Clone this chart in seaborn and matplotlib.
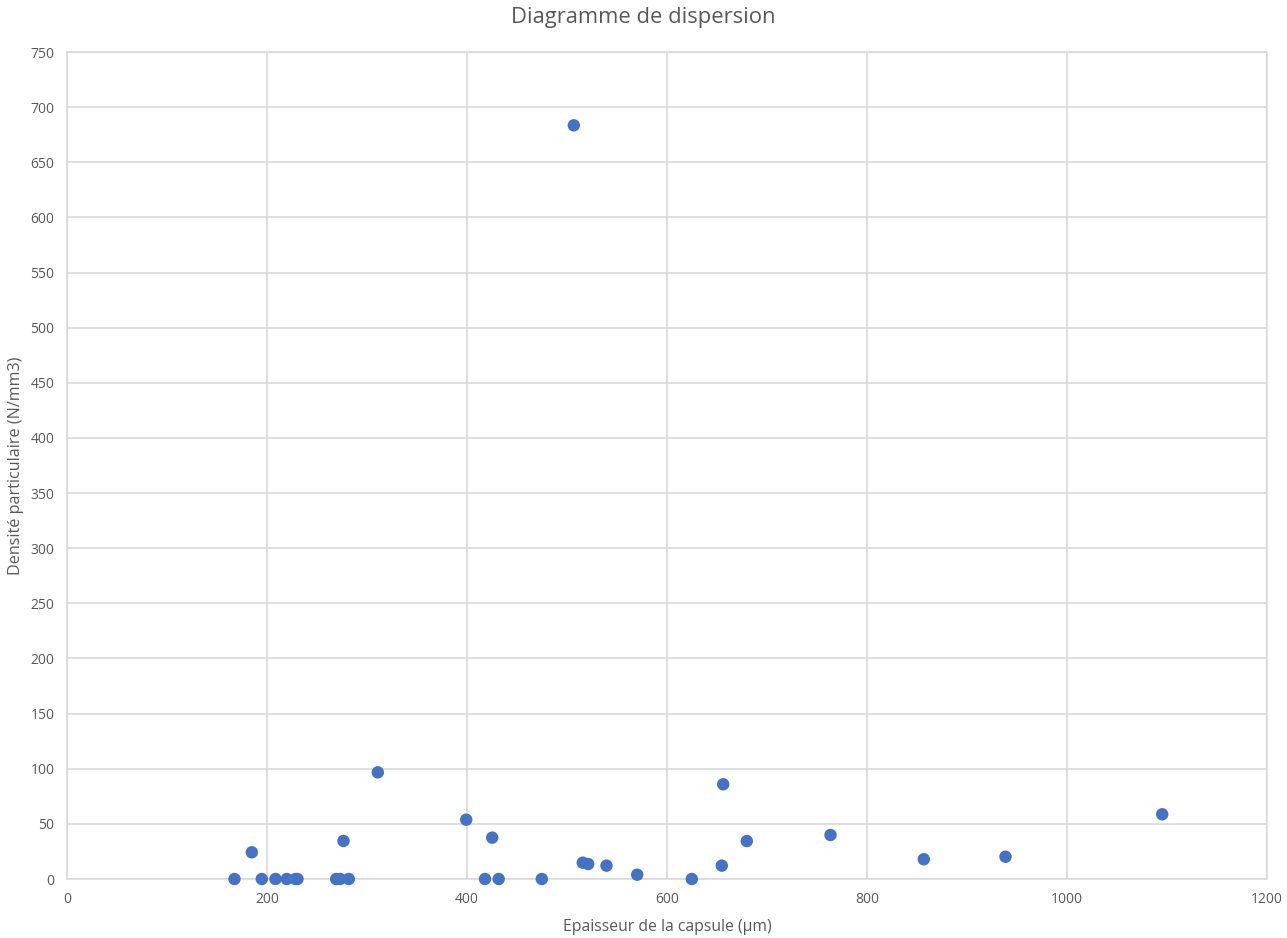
import matplotlib
matplotlib.use("Agg")
import matplotlib.pyplot as plt
import seaborn as sns
import pandas as pd

# Capsule thickness (µm) and particle density (N/mm3)
epaisseur = [167.5, 184.8, 194.8, 208.5, 219.8, 228.5, 230.5, 269.2, 273.2, 276.5,
             281.8, 310.8, 399.2, 418.0, 425.2, 431.7, 474.8, 506.8, 515.8, 521.2,
             539.5, 570.2, 624.8, 654.8, 656.2, 679.8, 763.5, 856.8, 938.5, 1095.2]
densite = [0, 24.2, 0, 0, 0, 0, 0, 0, 0, 34.5,
           0, 96.7, 53.8, 0, 37.5, 0, 0, 683.5, 14.8, 13.6,
           12.1, 3.9, 0, 12.1, 85.9, 34.4, 39.9, 17.9, 20.2, 58.7]

x_ticks = list(range(0, 1201, 200))
y_ticks = list(range(0, 751, 50))

df = pd.DataFrame({"epaisseur": epaisseur, "densite": densite})

sns.set_theme(style="white")
plt.rcParams["font.family"] = ["Open Sans", "DejaVu Sans"]

grid_color = "#d9d9d9"
text_color = "#595959"

fig = plt.figure(figsize=(12.87, 9.38), dpi=100)
ax = fig.add_axes([67 / 1287, 59 / 938, 1200 / 1287, 827 / 938])

sns.scatterplot(data=df, x="epaisseur", y="densite", ax=ax, color="#4472C4",
                s=80, edgecolor="none", zorder=3, clip_on=False)

ax.set_xlim(0, 1200)
ax.set_ylim(0, 750)
ax.set_xticks(x_ticks)
ax.set_yticks(y_ticks)
ax.grid(True, color=grid_color, linewidth=1.2)
ax.set_axisbelow(True)
for side in ax.spines.values():
    side.set_color(grid_color)
    side.set_linewidth(1.2)

ax.tick_params(axis="both", length=0, labelsize=10, labelcolor=text_color, pad=9)
ax.set_xlabel("Epaisseur de la capsule (µm)", fontsize=11.3, color=text_color, labelpad=9)
ax.set_ylabel("Densité particulaire (N/mm3)", fontsize=11.6, color=text_color, labelpad=5)
fig.text(0.5, 0.993, "Diagramme de dispersion", ha="center", va="top",
         fontsize=15.8, color=text_color)

fig.savefig("out.png", dpi=100, facecolor="white")
